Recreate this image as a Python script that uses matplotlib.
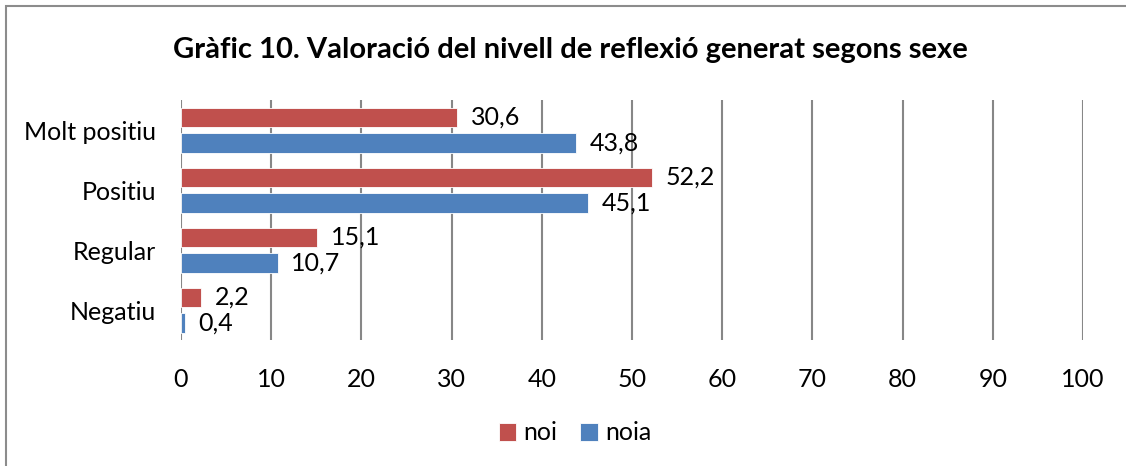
import numpy as np
import matplotlib.pyplot as plt
from matplotlib.patches import Rectangle

categories = ['Molt positiu', 'Positiu', 'Regular', 'Negatiu']
noi = [30.6, 52.2, 15.1, 2.2]
noia = [43.8, 45.1, 10.7, 0.4]
xticks = list(range(0, 101, 10))

red = '#C0504D'
blue = '#4F81BD'
grid = '#878787'

plt.rcParams['font.family'] = ['Lato', 'DejaVu Sans']

fig = plt.figure(figsize=(11.26, 4.66), dpi=100)
ax = fig.add_axes([181/1126, 1-340/466, 902/1126, 240/466])

y = np.arange(len(categories))
h = 0.33
off = 0.21
b1 = ax.barh(y - off, noi, height=h, color=red, edgecolor='white', linewidth=0.6, label='noi', zorder=3)
b2 = ax.barh(y + off, noia, height=h, color=blue, edgecolor='white', linewidth=0.6, label='noia', zorder=3)

for bars, vals in ((b1, noi), (b2, noia)):
    for bar, v in zip(bars, vals):
        ax.annotate(f'{v:.1f}'.replace('.', ','),
                    (bar.get_width(), bar.get_y() + bar.get_height()/2),
                    xytext=(10, 0), textcoords='offset points',
                    va='center', ha='left', fontsize=18)

ax.set_ylim(len(categories) - 0.5, -0.5)
ax.set_xlim(0, 100)
ax.set_xticks(xticks)
ax.set_yticks(y)
ax.set_yticklabels(categories)
ax.tick_params(axis='both', length=0, labelsize=18)
ax.tick_params(axis='x', pad=20)
ax.tick_params(axis='y', pad=18)
for s in ax.spines.values():
    s.set_visible(False)
ax.grid(axis='x', color=grid, linewidth=1.5, zorder=0)
ax.set_axisbelow(True)

fig.text(570/1126, 1-50/466, 'Gràfic 10. Valoració del nivell de reflexió generat segons sexe',
         ha='center', va='center', fontsize=21, fontweight='bold')

fig.legend(loc='center', bbox_to_anchor=(575/1126, 1-433/466), ncol=2, frameon=False,
           fontsize=18, handlelength=0.7, handleheight=0.7, handletextpad=0.3,
           columnspacing=0.9)

fig.patches.append(Rectangle((6/1126, -0.1), 1.2, 1 - 6/466 + 0.1, transform=fig.transFigure,
                             fill=False, edgecolor='#8C8C8C', linewidth=1.5))

fig.savefig('out.png', dpi=100)
